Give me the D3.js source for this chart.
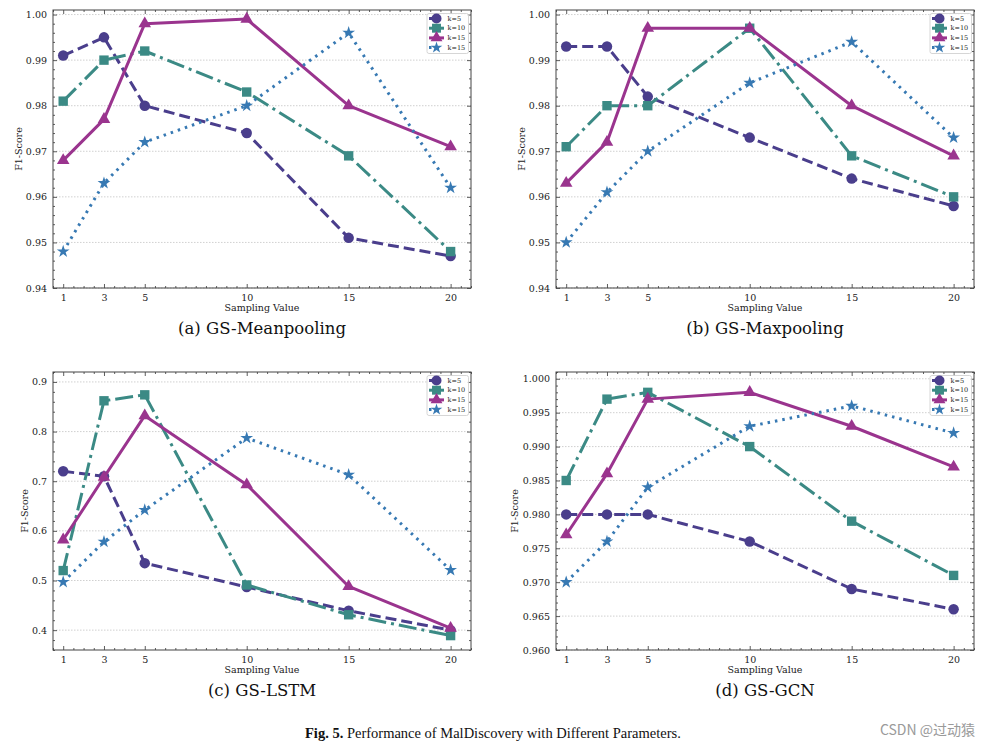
<!DOCTYPE html>
<html>
<head>
<meta charset="utf-8">
<script src="https://cdn.jsdelivr.net/npm/d3@7"></script>
<style>
  html, body { margin: 0; padding: 0; background: #fff; }
  svg { display: block; }
</style>
</head>
<body>
<svg id="chart" width="991" height="746"></svg>
<script>
// ---------------- DATA ----------------
const samplingValues = [1, 3, 5, 10, 15, 20];
const seriesLabels = ["k=5", "k=10", "k=15", "k=15"];
const panelTitles = ["(a) GS-Meanpooling", "(b) GS-Maxpooling", "(c) GS-LSTM", "(d) GS-GCN"];

// (a) GS-Meanpooling
const meanK5  = [0.991, 0.995, 0.980, 0.974, 0.951, 0.947];
const meanK10 = [0.981, 0.990, 0.992, 0.983, 0.969, 0.948];
const meanK15 = [0.968, 0.977, 0.998, 0.999, 0.980, 0.971];
const meanK15b = [0.948, 0.963, 0.972, 0.980, 0.996, 0.962];

// (b) GS-Maxpooling
const maxK5  = [0.993, 0.993, 0.982, 0.973, 0.964, 0.958];
const maxK10 = [0.971, 0.980, 0.980, 0.997, 0.969, 0.960];
const maxK15 = [0.963, 0.972, 0.997, 0.997, 0.980, 0.969];
const maxK15b = [0.950, 0.961, 0.970, 0.985, 0.994, 0.973];

// (c) GS-LSTM
const lstmK5  = [0.720, 0.710, 0.535, 0.487, 0.439, 0.400];
const lstmK10 = [0.520, 0.862, 0.874, 0.491, 0.431, 0.389];
const lstmK15 = [0.582, 0.708, 0.832, 0.693, 0.488, 0.404];
const lstmK15b = [0.497, 0.578, 0.642, 0.787, 0.713, 0.521];

// (d) GS-GCN
const gcnK5  = [0.980, 0.980, 0.980, 0.976, 0.969, 0.966];
const gcnK10 = [0.985, 0.997, 0.998, 0.990, 0.979, 0.971];
const gcnK15 = [0.977, 0.986, 0.997, 0.998, 0.993, 0.987];
const gcnK15b = [0.970, 0.976, 0.984, 0.993, 0.996, 0.992];

// y ticks
const yTicksA = [0.94, 0.95, 0.96, 0.97, 0.98, 0.99, 1.00];
const yTicksC = [0.4, 0.5, 0.6, 0.7, 0.8, 0.9];
const yTicksD = [0.960, 0.965, 0.970, 0.975, 0.980, 0.985, 0.990, 0.995, 1.000];

// ---------------- STYLE ----------------
const colors = ["#4a3e8c", "#3b8a85", "#9a348e", "#3779b3"];
const dashes = ["11,5", "18,5,3,5", null, "2.5,5"];
const markers = ["circle", "square", "triangle", "star"];

const panels = [
  { title: panelTitles[0], data: [meanK5, meanK10, meanK15, meanK15b], yDomain: [0.94, 1.001], yTicks: yTicksA, fmt: d3.format(".2f"), minorStep: 0.002,
    box: { x0: 53, x1: 471, y0: 10, y1: 288 } },
  { title: panelTitles[1], data: [maxK5, maxK10, maxK15, maxK15b], yDomain: [0.94, 1.001], yTicks: yTicksA, fmt: d3.format(".2f"), minorStep: 0.002,
    box: { x0: 556, x1: 974, y0: 10, y1: 288 } },
  { title: panelTitles[2], data: [lstmK5, lstmK10, lstmK15, lstmK15b], yDomain: [0.36, 0.92], yTicks: yTicksC, fmt: d3.format(".1f"), minorStep: 0.02,
    box: { x0: 53, x1: 471, y0: 372, y1: 650 } },
  { title: panelTitles[3], data: [gcnK5, gcnK10, gcnK15, gcnK15b], yDomain: [0.96, 1.001], yTicks: yTicksD, fmt: d3.format(".3f"), minorStep: 0.001,
    box: { x0: 556, x1: 974, y0: 372, y1: 650 } }
];

const svg = d3.select("#chart");
const serif = "'DejaVu Serif', serif";

function markerPath(type, size) {
  const sym = { circle: d3.symbolCircle, square: d3.symbolSquare, triangle: d3.symbolTriangle, star: d3.symbolStar }[type];
  const areas = { circle: size * size * Math.PI / 4, square: size * size * 0.8, triangle: size * size * 0.62, star: size * size * 0.42 };
  return d3.symbol().type(sym).size(areas[type])();
}

panels.forEach((p) => {
  const b = p.box;
  const x = d3.scaleLinear().domain([0.5, 21]).range([b.x0, b.x1]);
  const y = d3.scaleLinear().domain(p.yDomain).range([b.y1, b.y0]);
  const g = svg.append("g");

  // grid
  g.append("g").selectAll("line").data(p.yTicks).join("line")
    .attr("x1", b.x0).attr("x2", b.x1)
    .attr("y1", d => y(d)).attr("y2", d => y(d))
    .attr("stroke", "#b0b0b0").attr("stroke-width", 0.6).attr("stroke-dasharray", "1.5,1.5");

  // minor ticks
  const xMinor = d3.range(0.5, 21.01, 0.5).filter(v => !samplingValues.includes(v));
  const yMinor = d3.range(p.yDomain[0], p.yDomain[1] + 1e-9, p.minorStep).filter(v => !p.yTicks.some(t => Math.abs(t - v) < 1e-9));

  // axes
  const bottom = d3.axisBottom(x).tickValues(samplingValues).tickSize(-4).tickPadding(6).tickFormat(d3.format("d"));
  const top = d3.axisTop(x).tickValues(samplingValues).tickSize(-4).tickFormat("");
  const left = d3.axisLeft(y).tickValues(p.yTicks).tickSize(-4).tickPadding(6).tickFormat(p.fmt);
  const right = d3.axisRight(y).tickValues(p.yTicks).tickSize(-4).tickFormat("");
  const bMin = d3.axisBottom(x).tickValues(xMinor).tickSize(-2).tickFormat("");
  const tMin = d3.axisTop(x).tickValues(xMinor).tickSize(-2).tickFormat("");
  const lMin = d3.axisLeft(y).tickValues(yMinor).tickSize(-2).tickFormat("");
  const rMin = d3.axisRight(y).tickValues(yMinor).tickSize(-2).tickFormat("");

  const axes = [
    [bottom, `translate(0,${b.y1})`], [top, `translate(0,${b.y0})`],
    [left, `translate(${b.x0},0)`], [right, `translate(${b.x1},0)`],
    [bMin, `translate(0,${b.y1})`], [tMin, `translate(0,${b.y0})`],
    [lMin, `translate(${b.x0},0)`], [rMin, `translate(${b.x1},0)`]
  ];
  axes.forEach(([ax, tr]) => {
    const a = g.append("g").attr("transform", tr).call(ax);
    a.select(".domain").remove();
    a.selectAll("line").attr("stroke", "#333").attr("stroke-width", 0.8);
    a.selectAll("text").attr("font-family", serif).attr("font-size", 9.5).attr("fill", "#222");
  });

  // frame
  g.append("rect").attr("x", b.x0).attr("y", b.y0).attr("width", b.x1 - b.x0).attr("height", b.y1 - b.y0)
    .attr("fill", "none").attr("stroke", "#444").attr("stroke-width", 1);

  // series
  p.data.forEach((vals, si) => {
    const pts = samplingValues.map((s, i) => [s, vals[i]]);
    const line = d3.line().x(d => x(d[0])).y(d => y(d[1]));
    g.append("path").datum(pts).attr("d", line)
      .attr("fill", "none").attr("stroke", colors[si]).attr("stroke-width", 3)
      .attr("stroke-dasharray", dashes[si]).attr("stroke-linejoin", "round");
    const size = si === 3 ? 11 : 10.5;
    g.append("g").selectAll("path").data(pts).join("path")
      .attr("transform", d => `translate(${x(d[0])},${y(d[1])})`)
      .attr("d", markerPath(markers[si], size))
      .attr("fill", colors[si]);
  });

  // legend
  const lg = g.append("g").attr("transform", `translate(${b.x1 - 44},${b.y0 + 3.5})`);
  lg.append("rect").attr("width", 41.5).attr("height", 40).attr("rx", 2)
    .attr("fill", "#fff").attr("fill-opacity", 0.85).attr("stroke", "#ccc").attr("stroke-width", 0.8);
  seriesLabels.forEach((lab, si) => {
    const yy = 5 + si * 9.7;
    lg.append("line").attr("x1", 2).attr("x2", 17).attr("y1", yy).attr("y2", yy)
      .attr("stroke", colors[si]).attr("stroke-width", 3).attr("stroke-dasharray", dashes[si]);
    lg.append("path").attr("transform", `translate(9.5,${yy})`).attr("d", markerPath(markers[si], 10)).attr("fill", colors[si]);
    lg.append("text").attr("x", 20.5).attr("y", yy).attr("dy", "0.35em")
      .attr("font-family", serif).attr("font-size", 6.5).attr("fill", "#222").text(lab);
  });

  // labels
  const cx = (b.x0 + b.x1) / 2;
  g.append("text").attr("x", cx).attr("y", b.y1 + 20).attr("dy", "0.35em").attr("text-anchor", "middle")
    .attr("font-family", serif).attr("font-size", 9.5).attr("fill", "#222").text("Sampling Value");
  const ylx = b.x0 - (p.yTicks === yTicksC ? 28 : p.yTicks === yTicksD ? 41 : 34);
  g.append("text").attr("transform", `translate(${ylx},${(b.y0 + b.y1) / 2}) rotate(-90)`).attr("dy", "0.35em")
    .attr("text-anchor", "middle").attr("font-family", serif).attr("font-size", 9.5).attr("fill", "#222").text("F1-Score");
  g.append("text").attr("x", cx).attr("y", b.y1 + 40).attr("dy", "0.35em").attr("text-anchor", "middle")
    .attr("font-family", serif).attr("font-size", 16.5).attr("fill", "#111").text(p.title);
});

// caption
const cap = svg.append("text").attr("x", 305).attr("y", 738)
  .attr("font-family", "'Liberation Serif', serif").attr("font-size", 14.5).attr("fill", "#111");
cap.append("tspan").attr("font-weight", "bold").text("Fig. 5.");
cap.append("tspan").text(" Performance of MalDiscovery with Different Parameters.");

// watermark
svg.append("text").attr("x", 975).attr("y", 735).attr("text-anchor", "end")
  .attr("font-family", "'Noto Sans CJK SC', 'Noto Sans', sans-serif").attr("font-size", 14).attr("fill", "#9a9a9a")
  .text("CSDN @过动猿");
</script>
</body>
</html>
